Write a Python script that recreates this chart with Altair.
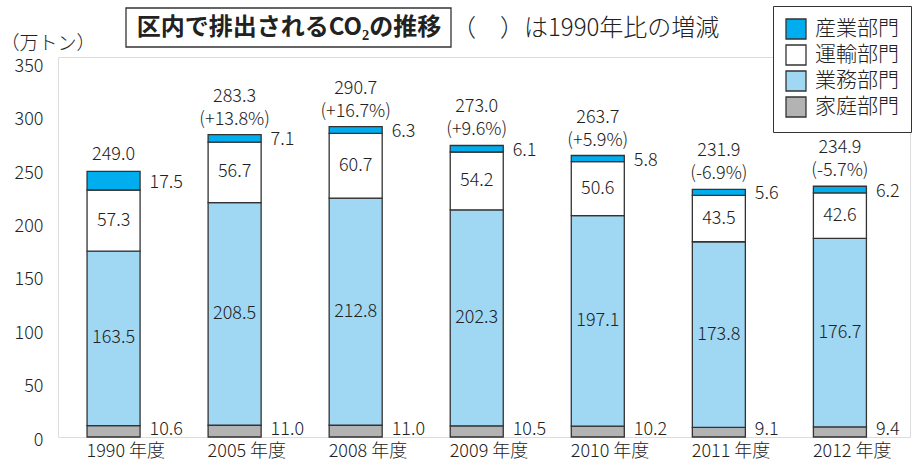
import altair as alt
import pandas as pd

years = ["1990 年度", "2005 年度", "2008 年度", "2009 年度", "2010 年度", "2011 年度", "2012 年度"]
household = [10.6, 11.0, 11.0, 10.5, 10.2, 9.1, 9.4]       # 家庭部門
business = [163.5, 208.5, 212.8, 202.3, 197.1, 173.8, 176.7]  # 業務部門
transport = [57.3, 56.7, 60.7, 54.2, 50.6, 43.5, 42.6]     # 運輸部門
industry = [17.5, 7.1, 6.3, 6.1, 5.8, 5.6, 6.2]            # 産業部門
totals = [249.0, 283.3, 290.7, 273.0, 263.7, 231.9, 234.9]
changes = ["", "+13.8%", "+16.7%", "+9.6%", "+5.9%", "-6.9%", "-5.7%"]
y_ticks = [0, 50, 100, 150, 200, 250, 300, 350]

sectors = ["産業部門", "運輸部門", "業務部門", "家庭部門"]
colors = ["#00AEEF", "#FFFFFF", "#A0D8F4", "#B3B3B3"]

FONT = "Noto Sans CJK JP"
TXT = "#222222"
NUMW = 300

# stacked long table (bottom -> top: 家庭, 業務, 運輸, 産業)
stack_series = [("家庭部門", household), ("業務部門", business),
                ("運輸部門", transport), ("産業部門", industry)]
rows = []
for i, yr in enumerate(years):
    base = 0.0
    for name, vals in stack_series:
        v = vals[i]
        rows.append({"year": yr, "sector": name, "value": v,
                     "y0": base, "y1": base + v, "ymid": base + v / 2,
                     "label": f"{v:.1f}"})
        base += v
df = pd.DataFrame(rows)

df_center = df[df["sector"].isin(["業務部門", "運輸部門"])]
df_ind = df[df["sector"] == "産業部門"]
df_house = df[df["sector"] == "家庭部門"]

tot_rows = []
for i, yr in enumerate(years):
    tot_rows.append({"year": yr, "top": df[(df["year"] == yr)]["y1"].max(),
                     "tlabel": f"{totals[i]:.1f}",
                     "clabel": "(" + changes[i] + ")" if changes[i] else "",
                     "has_change": bool(changes[i])})
df_tot = pd.DataFrame(tot_rows)
df_tot_single = df_tot[~df_tot["has_change"]]
df_tot_double = df_tot[df_tot["has_change"]]

df_years = pd.DataFrame({"year": years, "zero": [0] * len(years)})

xscale = alt.Scale(domain=years, paddingInner=0.562, paddingOuter=0.30, align=0.4)
yscale = alt.Scale(domain=[0, 356], nice=False, zero=True)
xaxis = alt.Axis(title=None, labels=False, domain=False, ticks=False)
yaxis = alt.Axis(title="（万トン）", values=y_ticks, grid=False, domain=False, ticks=False,
                 labelPadding=15, labelFontSize=18, labelFont=FONT, labelColor=TXT,
                 labelFontWeight=NUMW, labelOffset=3,
                 titleAngle=0, titleAlign="left", titleBaseline="middle",
                 titleX=-58, titleY=-14, titleFontSize=19, titleFont=FONT,
                 titleFontWeight=NUMW, titleColor=TXT)

X = alt.X("year:N", sort=years, scale=xscale, axis=xaxis)


def Y(f):
    return alt.Y(f, type="quantitative", scale=yscale, axis=yaxis)


def txt(**kw):
    base = dict(font=FONT, fontSize=18, color=TXT, fontWeight=NUMW)
    base.update(kw)
    return base


bars = alt.Chart(df).mark_bar(stroke="#333333", strokeWidth=1.3).encode(
    x=X, y=Y("y0"), y2="y1",
    color=alt.Color("sector:N", scale=alt.Scale(domain=sectors, range=colors),
                    legend=alt.Legend(title=None, orient="none", legendX=715, legendY=-51,
                                      symbolType="square", symbolSize=400,
                                      symbolStrokeColor="#333333", symbolStrokeWidth=1.3,
                                      labelFontSize=21, labelFont=FONT, labelColor=TXT,
                                      labelFontWeight=NUMW,
                                      labelOffset=8, rowPadding=0, padding=12,
                                      strokeColor="#333333", fillColor="#FFFFFF"))
)

center_lbl = alt.Chart(df_center).mark_text(
    **txt(align="center", baseline="middle")
).encode(x=X, y=Y("ymid"), text="label:N")

ind_lbl = alt.Chart(df_ind).mark_text(
    **txt(align="left", baseline="middle", dx=36, dy=2)
).encode(x=X, y=Y("ymid"), text="label:N")

house_lbl = alt.Chart(df_house).mark_text(
    **txt(align="left", baseline="alphabetic", dx=36, dy=-2)
).encode(x=X, y=Y("y0"), text="label:N")

tot_single = alt.Chart(df_tot_single).mark_text(
    **txt(align="center", baseline="middle", dy=-16)
).encode(x=X, y=Y("top"), text="tlabel:N")

tot_first = alt.Chart(df_tot_double).mark_text(
    **txt(align="center", baseline="middle", dy=-38)
).encode(x=X, y=Y("top"), text="tlabel:N")

tot_change = alt.Chart(df_tot_double).mark_text(
    **txt(align="center", baseline="middle", dy=-15)
).encode(x=X, y=Y("top"), text="clabel:N")

year_lbl = alt.Chart(df_years).mark_text(
    **txt(align="left", baseline="top", dx=-27, dy=6)
).encode(x=X, y=Y("zero"), text="year:N")

anno = pd.DataFrame({"a": [1]})
title_box = alt.Chart(anno).mark_rect(fill="#FFFFFF", stroke="#333333", strokeWidth=1.3).encode(
    x=alt.value(68), x2=alt.value(393), y=alt.value(-49), y2=alt.value(-10))
title_txt = alt.Chart(anno).mark_text(
    text="区内で排出されるCO₂の推移", font=FONT, fontSize=24, fontWeight="bold",
    color=TXT, align="center", baseline="middle").encode(x=alt.value(231), y=alt.value(-29))
sub_txt = alt.Chart(anno).mark_text(
    text="（　）は1990年比の増減", font=FONT, fontSize=24, color=TXT, fontWeight=NUMW,
    align="left", baseline="middle").encode(x=alt.value(394), y=alt.value(-28))

chart = alt.layer(bars, center_lbl, ind_lbl, house_lbl, tot_single, tot_first, tot_change,
                  year_lbl, title_box, title_txt, sub_txt).properties(
    width=852, height=380,
    autosize=alt.AutoSizeParams(type="none"),
    padding={"left": 58, "top": 57, "right": 12, "bottom": 27},
).configure_view(fill="#D5ECF9", stroke=None).configure(background="#FFFFFF")

chart.save("out.html", embed_options={"renderer": "svg", "actions": False})
